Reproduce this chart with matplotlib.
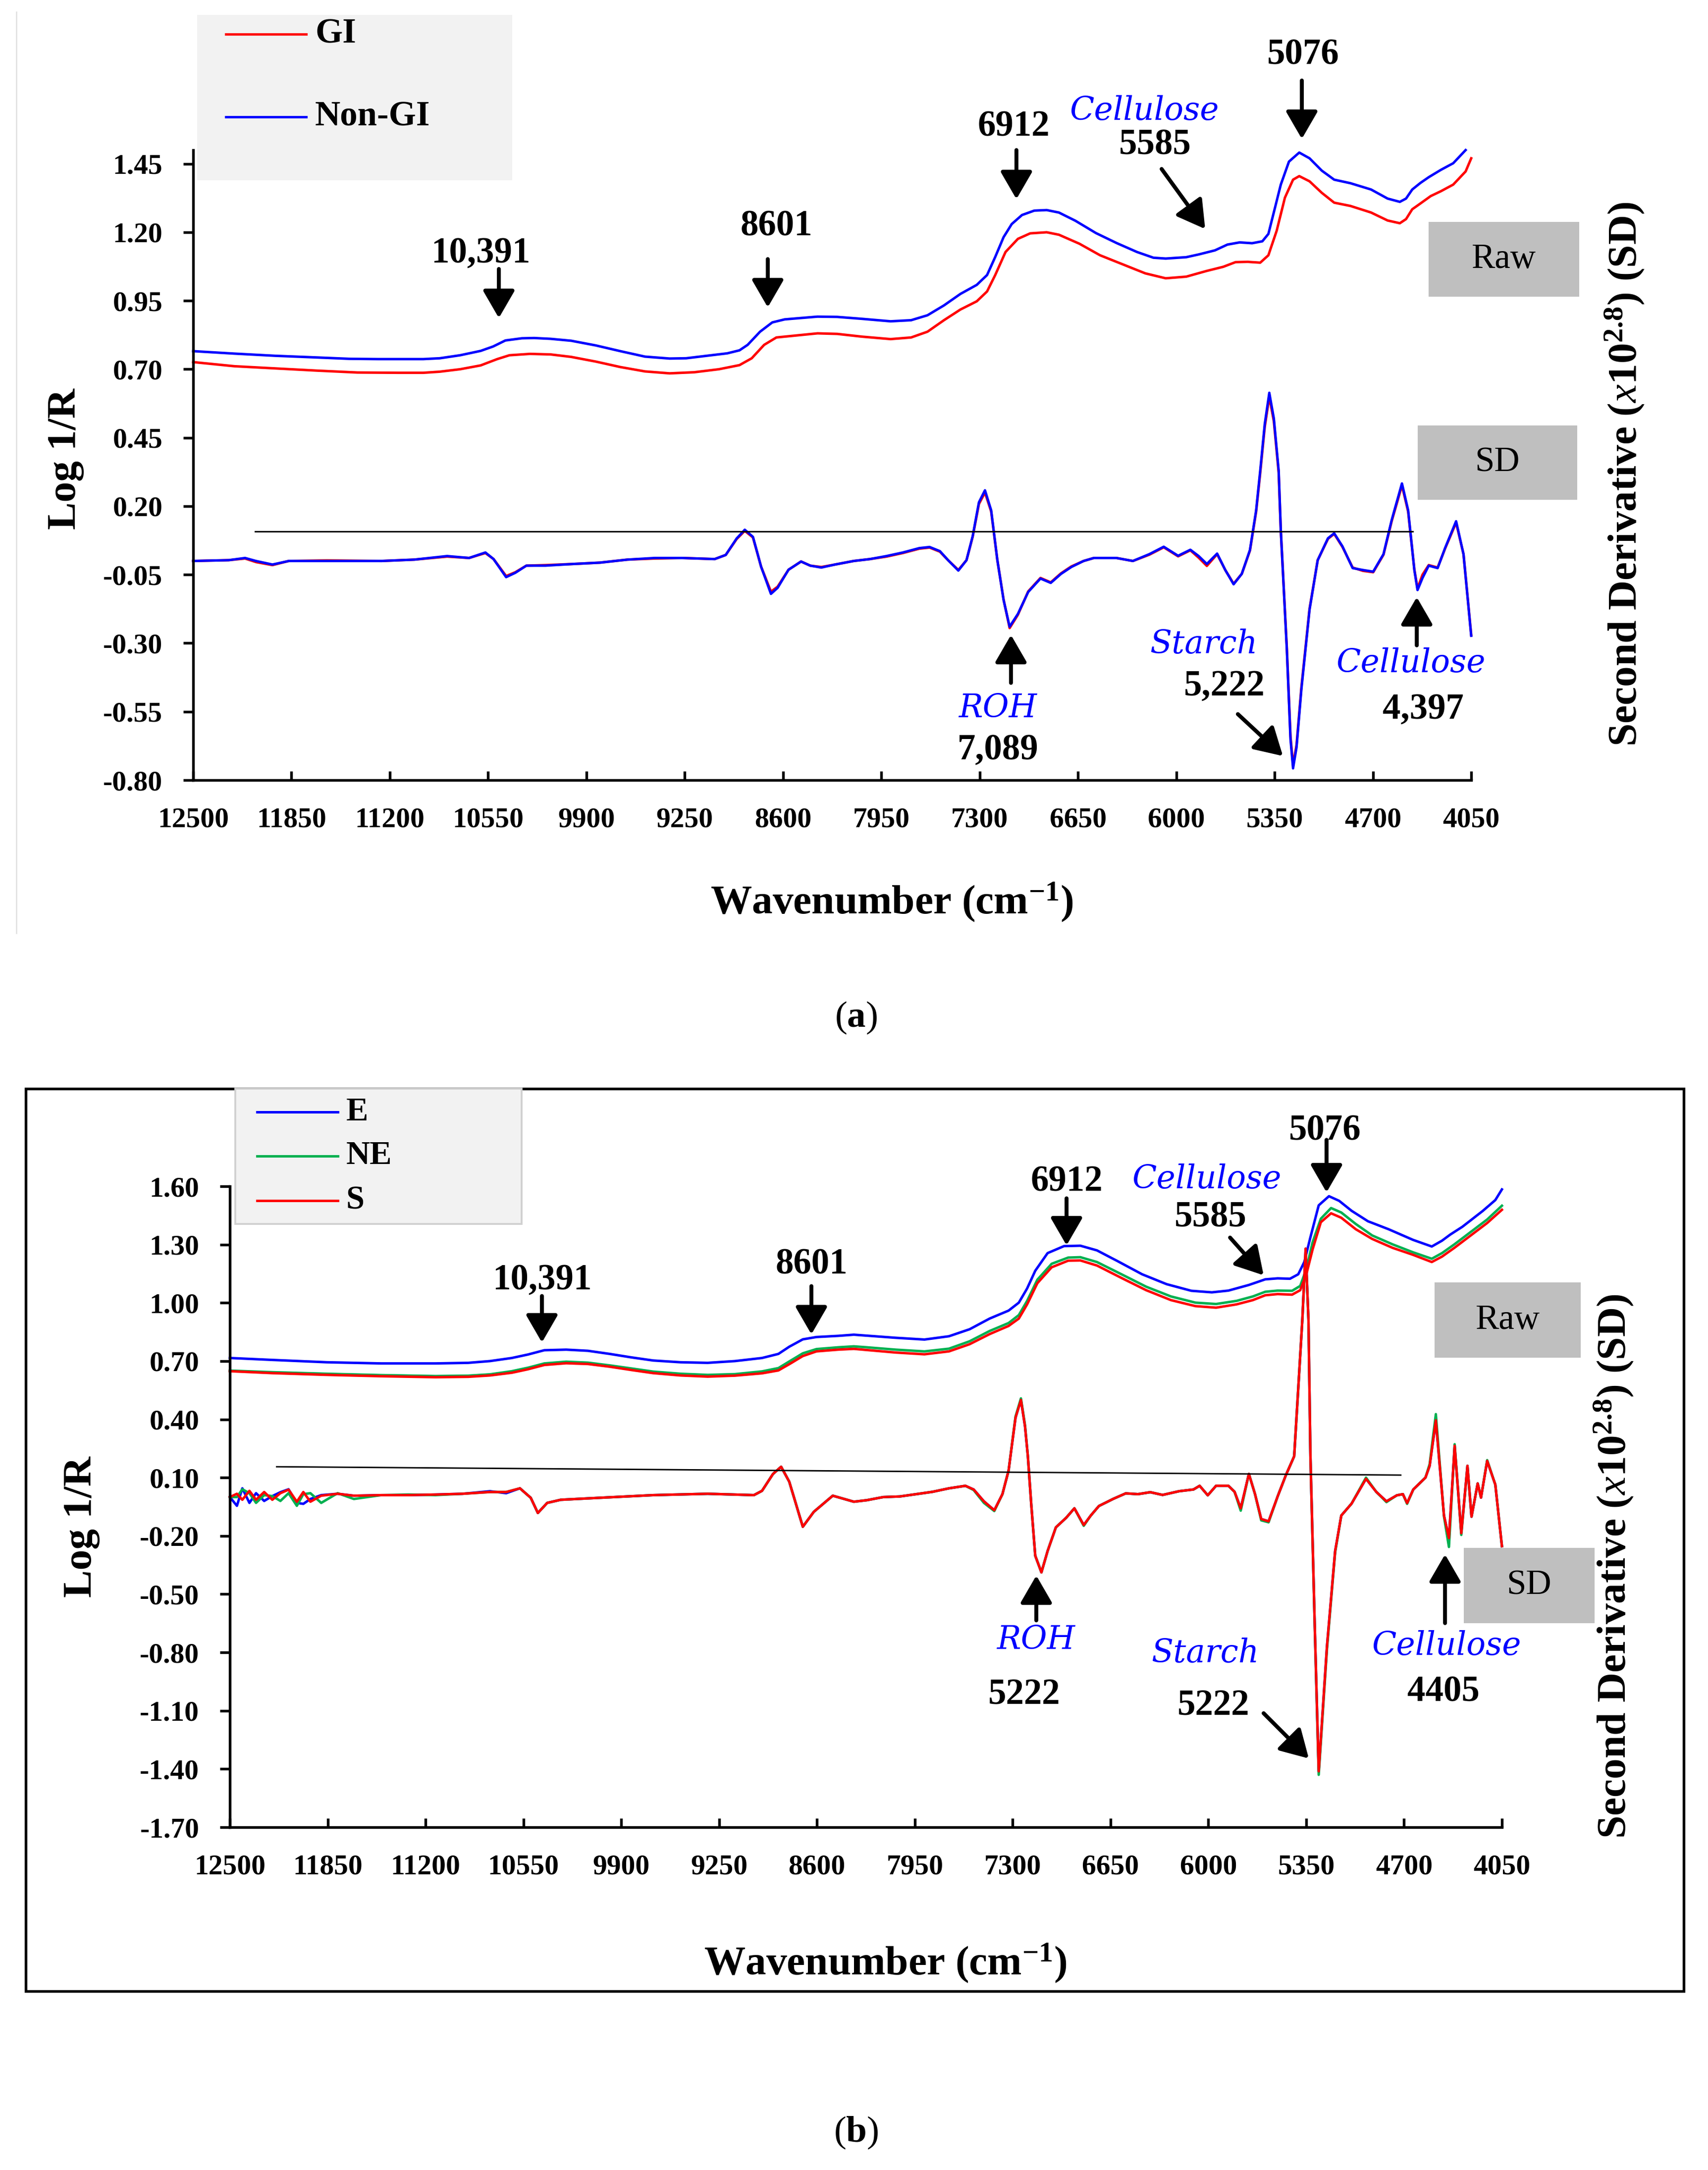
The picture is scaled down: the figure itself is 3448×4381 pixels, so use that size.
import matplotlib
matplotlib.use('Agg')
import matplotlib.pyplot as plt
from matplotlib.patches import Rectangle
from matplotlib.lines import Line2D

# ---------------- data ----------------
xticks = [12500, 11850, 11200, 10550, 9900, 9250, 8600, 7950, 7300, 6650, 6000, 5350, 4700, 4050]
xtick_labels = ['12500', '11850', '11200', '10550', '9900', '9250', '8600', '7950', '7300', '6650', '6000', '5350', '4700', '4050']
yticks_a = [-0.80, -0.55, -0.30, -0.05, 0.20, 0.45, 0.70, 0.95, 1.20, 1.45]
ylabels_a = ['-0.80', '-0.55', '-0.30', '-0.05', '0.20', '0.45', '0.70', '0.95', '1.20', '1.45']
yticks_b = [-1.70, -1.40, -1.10, -0.80, -0.50, -0.20, 0.10, 0.40, 0.70, 1.00, 1.30, 1.60]
ylabels_b = ['-1.70', '-1.40', '-1.10', '-0.80', '-0.50', '-0.20', '0.10', '0.40', '0.70', '1.00', '1.30', '1.60']

# panel (a) raw spectra
wn_raw_a_nongi = [12500, 12228, 11957, 11685, 11468, 11278, 10979, 10870, 10735, 10599, 10517, 10436, 10327, 10246, 10137,
                  10001, 9839, 9676, 9513, 9350, 9241, 9105, 8969, 8888, 8834, 8752, 8671, 8589, 8481, 8372, 8242,
                  8079, 7889, 7753, 7645, 7536, 7427, 7319, 7251, 7197, 7142, 7088, 7020, 6939, 6857, 6776,
                  6667, 6531, 6396, 6260, 6151, 6070, 5934, 5852, 5744, 5662, 5581, 5499, 5431, 5391, 5350,
                  5309, 5255, 5187, 5119, 5038, 4956, 4848, 4712, 4603, 4522, 4481, 4440, 4386, 4331, 4250,
                  4169, 4087]
raw_a_nongi = [0.766, 0.757, 0.749, 0.743, 0.738, 0.737, 0.737, 0.740, 0.751, 0.767, 0.783, 0.805, 0.813, 0.814, 0.811,
               0.804, 0.787, 0.766, 0.746, 0.739, 0.740, 0.749, 0.758, 0.769, 0.789, 0.837, 0.871, 0.882, 0.887, 0.892, 0.891,
               0.884, 0.875, 0.879, 0.897, 0.933, 0.975, 1.008, 1.044, 1.110, 1.182, 1.230, 1.263, 1.279, 1.281, 1.272,
               1.242, 1.197, 1.161, 1.128, 1.107, 1.104, 1.109, 1.119, 1.134, 1.155, 1.163, 1.160, 1.167, 1.194, 1.284,
               1.374, 1.458, 1.491, 1.470, 1.425, 1.392, 1.379, 1.356, 1.323, 1.311, 1.323, 1.356, 1.380, 1.401, 1.428,
               1.452, 1.500]
wn_raw_a_gi = [12500, 12228, 11957, 11685, 11414, 11142, 10979, 10870, 10735, 10599, 10490, 10409, 10273, 10137, 10001,
               9839, 9676, 9513, 9350, 9187, 9024, 8888, 8807, 8725, 8644, 8535, 8372, 8242,
               8079, 7889, 7753, 7645, 7536, 7427, 7319, 7251, 7197, 7129, 7047, 6966, 6857, 6776, 6640,
               6504, 6341, 6205, 6070, 5934, 5798, 5689, 5608, 5527, 5445, 5391, 5336, 5282, 5228, 5187,
               5119, 5038, 4956, 4848, 4712, 4603, 4522, 4481, 4440, 4386, 4318, 4250, 4169, 4087, 4050]
raw_a_gi = [0.726, 0.711, 0.703, 0.695, 0.688, 0.687, 0.687, 0.691, 0.700, 0.714, 0.737, 0.751, 0.756, 0.754, 0.745,
            0.728, 0.708, 0.692, 0.685, 0.689, 0.700, 0.715, 0.740, 0.789, 0.816, 0.822, 0.831, 0.829,
            0.819, 0.810, 0.816, 0.837, 0.879, 0.918, 0.948, 0.984, 1.044, 1.128, 1.176, 1.196, 1.200, 1.191, 1.158,
            1.116, 1.080, 1.050, 1.032, 1.038, 1.059, 1.074, 1.091, 1.092, 1.089, 1.116, 1.206, 1.326, 1.392, 1.405,
            1.386, 1.344, 1.308, 1.296, 1.272, 1.243, 1.233, 1.248, 1.284, 1.305, 1.332, 1.350, 1.374, 1.422, 1.470]

# panel (a) second derivative spectra (offset)
wn_sd_a = [12500, 12265, 12157, 12085, 11976, 11868, 11615, 11254, 11038, 10821, 10676, 10568, 10514, 10431, 10370,
           10297, 10171, 9990, 9810, 9629, 9449, 9268, 9160, 9052, 8979, 8907, 8853, 8799, 8745, 8680,
           8636, 8564, 8481, 8420, 8347, 8257,
           8133, 8025, 7916, 7808, 7699, 7631, 7563, 7509, 7441, 7387, 7346, 7305, 7265, 7224, 7183,
           7142, 7102, 7047, 6979, 6898, 6830, 6762, 6694, 6613, 6545, 6396, 6287, 6178, 6083, 5988,
           5907, 5852, 5798, 5730, 5676, 5621, 5567, 5513, 5472, 5445, 5415, 5385, 5355, 5323, 5309,
           5269, 5245, 5228, 5205, 5173, 5119, 5065, 4997, 4956, 4902, 4834, 4766, 4698, 4630, 4576,
           4508, 4467, 4426, 4405, 4372, 4331, 4272, 4223, 4150, 4101, 4050]
sd_a_nongi = [0.000, 0.003, 0.011, 0.000, -0.013, 0.000, 0.000, 0.000, 0.005, 0.018, 0.011, 0.031, 0.007, -0.059, -0.043,
              -0.017, -0.017, -0.011, -0.006, 0.005, 0.011, 0.011, 0.009, 0.007, 0.022, 0.082, 0.114, 0.088, -0.021, -0.120,
              -0.098, -0.032, -0.002, -0.017, -0.024, -0.013,
              0.000, 0.007, 0.018, 0.031, 0.047, 0.051, 0.036, 0.003, -0.035, 0.003, 0.091, 0.214, 0.258, 0.185, 0.003,
              -0.142, -0.240, -0.193, -0.113, -0.064, -0.080, -0.047, -0.022, 0.000, 0.011, 0.011, 0.000, 0.025, 0.052, 0.019,
              0.041, 0.018, -0.011, 0.027, -0.033, -0.085, -0.047, 0.040, 0.185, 0.330, 0.500, 0.614, 0.520, 0.330, 0.112,
              -0.324, -0.650, -0.757, -0.680, -0.469, -0.178, 0.003, 0.083, 0.101, 0.054, -0.026, -0.033, -0.039, 0.025, 0.149,
              0.283, 0.185, -0.033, -0.106, -0.062, -0.017, -0.026, 0.047, 0.145, 0.025, -0.273]
sd_a_gi = [0.000, 0.003, 0.009, -0.004, -0.015, 0.000, 0.002, 0.000, 0.005, 0.016, 0.011, 0.029, 0.007, -0.055, -0.041,
           -0.017, -0.015, -0.011, -0.006, 0.005, 0.009, 0.011, 0.009, 0.007, 0.022, 0.080, 0.110, 0.086, -0.021, -0.112,
           -0.094, -0.032, -0.002, -0.017, -0.022, -0.013,
           0.000, 0.007, 0.016, 0.029, 0.045, 0.049, 0.034, 0.003, -0.033, 0.003, 0.089, 0.208, 0.250, 0.181, 0.003,
           -0.140, -0.245, -0.196, -0.111, -0.062, -0.078, -0.045, -0.020, 0.000, 0.011, 0.011, 0.000, 0.023, 0.050, 0.017,
           0.039, 0.012, -0.018, 0.025, -0.033, -0.083, -0.047, 0.038, 0.180, 0.322, 0.490, 0.600, 0.510, 0.322, 0.110,
           -0.318, -0.640, -0.745, -0.672, -0.462, -0.175, 0.003, 0.081, 0.099, 0.052, -0.024, -0.036, -0.041, 0.023, 0.145,
           0.276, 0.180, -0.031, -0.100, -0.050, -0.015, -0.024, 0.045, 0.140, 0.025, -0.270]
ref_line_a_wn = [12092, 4438]
ref_line_a_val = [0.108, 0.108]

# panel (b) raw spectra
wn_raw_b = [12500, 12218, 11857, 11495, 11134, 10917, 10772, 10627, 10519, 10411, 10266, 10121, 9977, 9832, 9688,
            9507, 9326, 9145, 8965, 8856, 8784, 8694, 8603, 8459, 8355]
raw_b_e_left = [0.716, 0.706, 0.694, 0.688, 0.688, 0.691, 0.700, 0.716, 0.734, 0.756, 0.759, 0.753, 0.737, 0.719, 0.703,
                0.694, 0.691, 0.700, 0.716, 0.737, 0.774, 0.812, 0.824, 0.830, 0.836]
raw_b_ne_left = [0.651, 0.643, 0.635, 0.628, 0.623, 0.625, 0.632, 0.648, 0.666, 0.688, 0.697, 0.692, 0.678, 0.662, 0.646,
                 0.635, 0.629, 0.633, 0.647, 0.664, 0.698, 0.740, 0.762, 0.771, 0.776]
raw_b_s_left = [0.648, 0.638, 0.629, 0.622, 0.617, 0.619, 0.626, 0.640, 0.658, 0.680, 0.689, 0.685, 0.671, 0.654, 0.638,
                0.626, 0.620, 0.625, 0.637, 0.652, 0.684, 0.726, 0.750, 0.759, 0.763]
wn_raw_b_e_right = [8268, 8077, 7886, 7723, 7586, 7453, 7327, 7259, 7204, 7150, 7068, 6959, 6850, 6740, 6604,
                    6440, 6277, 6113, 5977, 5867, 5731, 5622, 5540, 5458, 5403, 5363, 5322, 5267, 5199, 5131,
                    5049, 4940, 4803, 4640, 4516, 4448, 4394, 4312, 4176, 4094, 4050]
raw_b_e_right = [0.831, 0.820, 0.811, 0.828, 0.864, 0.919, 0.960, 1.001, 1.074, 1.165, 1.256, 1.292, 1.294, 1.270, 1.215,
                 1.147, 1.096, 1.062, 1.054, 1.063, 1.092, 1.121, 1.126, 1.124, 1.147, 1.210, 1.338, 1.502, 1.549, 1.525,
                 1.474, 1.420, 1.379, 1.324, 1.290, 1.320, 1.351, 1.392, 1.474, 1.529, 1.584]
wn_raw_b_ns_right = [8268, 8077, 7886, 7723, 7586, 7453, 7327, 7259, 7204, 7136, 7041, 6931, 6850, 6740, 6577,
                     6413, 6249, 6086, 5949, 5813, 5704, 5622, 5540, 5444, 5390, 5349, 5308, 5253, 5185, 5117,
                     5021, 4912, 4776, 4640, 4516, 4448, 4366, 4257, 4148, 4050]
raw_b_ne_right = [0.771, 0.759, 0.750, 0.764, 0.802, 0.855, 0.896, 0.937, 1.010, 1.119, 1.201, 1.233, 1.235, 1.210, 1.147,
                  1.083, 1.033, 1.001, 0.994, 1.010, 1.033, 1.057, 1.063, 1.062, 1.087, 1.174, 1.311, 1.433, 1.488, 1.465,
                  1.406, 1.347, 1.301, 1.260, 1.227, 1.256, 1.301, 1.365, 1.429, 1.500]
raw_b_s_right = [0.757, 0.744, 0.735, 0.750, 0.787, 0.839, 0.881, 0.919, 0.992, 1.101, 1.183, 1.217, 1.218, 1.192, 1.128,
                 1.065, 1.014, 0.983, 0.975, 0.992, 1.014, 1.039, 1.045, 1.042, 1.065, 1.147, 1.274, 1.415, 1.461, 1.438,
                 1.379, 1.329, 1.283, 1.247, 1.210, 1.238, 1.283, 1.347, 1.411, 1.479]

# panel (b) second derivative spectra (offset)
wn_sd_b_left = [12500, 12453, 12417, 12370, 12326, 12272, 12218, 12164, 12110, 12055, 12012, 11965, 11893, 11784, 11676,
                11495, 11314, 11134, 10953, 10772, 10664, 10573, 10501, 10454, 10392, 10302, 10049, 9688, 9326, 9019,
                8965, 8892, 8838, 8784, 8694, 8621, 8495, 8355]
sd_b_s_left = [0.000, 0.017, -0.014, 0.032, -0.014, 0.026, -0.014, 0.020, 0.038, -0.024, 0.026, -0.024, 0.007, 0.017, 0.007,
               0.010, 0.010, 0.013, 0.017, 0.026, 0.026, 0.045, -0.004, -0.082, -0.030, -0.014, -0.004, 0.010, 0.017, 0.010,
               0.032, 0.119, 0.156, 0.079, -0.153, -0.076, 0.007, -0.024]
sd_b_ne_left = [0.000, 0.000, 0.040, 0.020, -0.030, 0.010, 0.005, -0.020, 0.020, -0.045, 0.015, 0.020, -0.030, 0.020, -0.010,
                0.010, 0.013, 0.010, 0.017, 0.026, 0.026, 0.045, -0.004, -0.082, -0.030, -0.014, -0.004, 0.010, 0.017, 0.010,
                0.032, 0.119, 0.156, 0.079, -0.153, -0.076, 0.007, -0.024]
sd_b_e_left = [0.000, -0.045, 0.045, -0.030, 0.020, -0.020, 0.005, 0.025, 0.040, -0.030, -0.035, -0.010, 0.010, 0.017, 0.007,
               0.010, 0.010, 0.013, 0.017, 0.030, 0.020, 0.045, -0.004, -0.082, -0.030, -0.014, -0.004, 0.010, 0.017, 0.010,
               0.032, 0.119, 0.156, 0.079, -0.153, -0.076, 0.007, -0.024]
wn_sd_b_right = [8268, 8159, 8050, 7941, 7832, 7723, 7614, 7559, 7491, 7422, 7368, 7327, 7281, 7245, 7218,
                 7199, 7177, 7150, 7109, 7068, 7013, 6945, 6890, 6828, 6781, 6727, 6631, 6549, 6468, 6386,
                 6304, 6195, 6099, 6058, 6004, 5949, 5867, 5826, 5785, 5731, 5690, 5649, 5600, 5540, 5485,
                 5430, 5376, 5354, 5335, 5322, 5294, 5267, 5212, 5158, 5117, 5049, 4953, 4885, 4817, 4748,
                 4708, 4680, 4639, 4558, 4530, 4489, 4435, 4402, 4364, 4320, 4279, 4252, 4211, 4189, 4148,
                 4094, 4050]
sd_b_s_right = [-0.016, 0.000, 0.003, 0.015, 0.027, 0.045, 0.058, 0.039, -0.022, -0.068, 0.015, 0.137, 0.409, 0.500, 0.363,
                0.210, -0.034, -0.302, -0.388, -0.278, -0.156, -0.107, -0.058, -0.144, -0.095, -0.046, -0.009, 0.019, 0.015, 0.025,
                0.011, 0.030, 0.039, 0.058, 0.009, 0.058, 0.058, 0.027, -0.058, 0.119, 0.015, -0.113, -0.125, 0.003, 0.113,
                0.210, 0.910, 1.279, 0.910, 0.210, -0.644, -1.412, -0.766, -0.278, -0.095, -0.034, 0.094, 0.027, -0.022, 0.009,
                0.015, -0.031, 0.039, 0.100, 0.161, 0.395, -0.095, -0.211, 0.264, -0.186, 0.161, -0.101, 0.070, -0.003, 0.186,
                0.064, -0.253]
sd_b_ne_right = [-0.016, 0.000, 0.003, 0.015, 0.027, 0.045, 0.058, 0.036, -0.030, -0.072, 0.015, 0.137, 0.415, 0.508, 0.370,
                 0.210, -0.034, -0.302, -0.388, -0.278, -0.156, -0.107, -0.058, -0.148, -0.095, -0.046, -0.009, 0.019, 0.015, 0.025,
                 0.011, 0.030, 0.039, 0.058, 0.009, 0.058, 0.058, 0.027, -0.070, 0.119, 0.015, -0.120, -0.130, 0.003, 0.113,
                 0.210, 0.910, 1.265, 0.910, 0.210, -0.650, -1.430, -0.780, -0.285, -0.095, -0.034, 0.100, 0.027, -0.026, 0.009,
                 0.015, -0.035, 0.039, 0.100, 0.170, 0.427, -0.100, -0.257, 0.272, -0.195, 0.161, -0.101, 0.070, -0.003, 0.190,
                 0.064, -0.253]
sd_b_e_right = [-0.016, 0.000, 0.003, 0.015, 0.027, 0.045, 0.058, 0.039, -0.022, -0.068, 0.015, 0.137, 0.409, 0.500, 0.363,
                0.210, -0.034, -0.302, -0.388, -0.278, -0.156, -0.107, -0.058, -0.144, -0.095, -0.046, -0.009, 0.019, 0.015, 0.025,
                0.011, 0.030, 0.039, 0.058, 0.009, 0.058, 0.058, 0.027, -0.058, 0.119, 0.015, -0.113, -0.125, 0.003, 0.113,
                0.210, 0.910, 1.279, 0.910, 0.210, -0.644, -1.412, -0.766, -0.278, -0.095, -0.034, 0.094, 0.027, -0.022, 0.009,
                0.015, -0.031, 0.039, 0.100, 0.161, 0.395, -0.095, -0.211, 0.264, -0.186, 0.161, -0.101, 0.070, -0.003, 0.186,
                0.064, -0.253]
ref_line_b_wn = [12189, 4722]
ref_line_b_val = [0.156, 0.113]

# ---------------- styling ----------------
W, H = 3448, 4381
DPI = 300
plt.rcParams['font.family'] = ['Liberation Serif', 'DejaVu Serif']
plt.rcParams['mathtext.fontset'] = 'custom'
plt.rcParams['mathtext.rm'] = 'Liberation Serif:bold'
plt.rcParams['mathtext.bf'] = 'Liberation Serif:bold'
plt.rcParams['mathtext.it'] = 'Liberation Serif:italic'
plt.rcParams['axes.unicode_minus'] = False

BLUE = '#0000FF'
RED = '#FF0000'
GREEN = '#00B050'
LW = 1.2

fig = plt.figure(figsize=(W / DPI, H / DPI), dpi=DPI)


def fx(x):
    return x / W


def fy(y):
    return 1 - y / H


def make_axes(left, right, top, bottom):
    return fig.add_axes([fx(left), fy(bottom), (right - left) / W, (bottom - top) / H])


def style(ax, ylim, yt, yl):
    ax.set_xlim(12500, 4050)
    ax.set_ylim(*ylim)
    ax.set_xticks(xticks)
    ax.set_xticklabels(xtick_labels)
    ax.set_yticks(yt)
    ax.set_yticklabels(yl)
    for s in ['top', 'right']:
        ax.spines[s].set_visible(False)
    for s in ['left', 'bottom']:
        ax.spines[s].set_linewidth(1.3)
    ax.tick_params(axis='x', direction='in', length=4.4, width=1.3, pad=13, labelsize=13.8)
    ax.tick_params(axis='y', direction='out', length=4.8, width=1.3, pad=10, labelsize=13.8)
    for lab in ax.get_xticklabels() + ax.get_yticklabels():
        lab.set_fontweight('bold')
    ax.patch.set_alpha(0)


def arrow(ax, p_from, p_to):
    ax.annotate('', xy=p_to, xytext=p_from,
                arrowprops=dict(arrowstyle='-|>,head_length=0.95,head_width=0.55', color='black',
                                lw=1.9, mutation_scale=12, shrinkA=0, shrinkB=0),
                annotation_clip=False)


def num(ax, x, y, s):
    ax.text(x, y, s, ha='center', va='center', fontsize=17.5, fontweight='bold', clip_on=False)


def blue_lab(ax, x, y, s):
    ax.text(x, y, s, ha='center', va='center', fontsize=15.5, style='italic', color=BLUE,
            family=['DejaVu Serif'], clip_on=False)


def gray_box(x0, y0, x1, y1, s):
    fig.patches.append(Rectangle((fx(x0), fy(y1)), (x1 - x0) / W, (y1 - y0) / H,
                                 transform=fig.transFigure, facecolor='#BFBFBF', edgecolor='none', zorder=3))
    fig.text(fx((x0 + x1) / 2), fy((y0 + y1) / 2), s, ha='center', va='center', fontsize=17, zorder=4)


# ================= panel (a) =================
axa = make_axes(390, 2970, 303, 1575)
style(axa, (-0.80, 1.50), yticks_a, ylabels_a)
axa.plot(wn_raw_a_gi, raw_a_gi, color=RED, lw=LW, clip_on=False)
axa.plot(wn_raw_a_nongi, raw_a_nongi, color=BLUE, lw=LW, clip_on=False)
axa.plot(wn_sd_a, sd_a_gi, color=RED, lw=LW, clip_on=False)
axa.plot(wn_sd_a, sd_a_nongi, color=BLUE, lw=LW, clip_on=False)
axa.plot(ref_line_a_wn, ref_line_a_val, color='black', lw=0.7)

num(axa, 10600, 1.122, '10,391')
arrow(axa, (10479, 1.066), (10479, 0.887))
num(axa, 8645, 1.220, '8601')
arrow(axa, (8701, 1.102), (8701, 0.926))
num(axa, 7076, 1.584, '6912')
arrow(axa, (7057, 1.500), (7057, 1.321))
blue_lab(axa, 6212, 1.644, 'Cellulose')
num(axa, 6140, 1.517, '5585')
arrow(axa, (6097, 1.431), (5809, 1.212))
num(axa, 5161, 1.846, '5076')
arrow(axa, (5170, 1.754), (5170, 1.541))
blue_lab(axa, 7178, -0.537, 'ROH')
num(axa, 7178, -0.690, '7,089')
arrow(axa, (7093, -0.445), (7093, -0.270))
blue_lab(axa, 5819, -0.304, 'Starch')
num(axa, 5681, -0.457, '5,222')
arrow(axa, (5593, -0.559), (5295, -0.712))
blue_lab(axa, 4450, -0.373, 'Cellulose')
num(axa, 4368, -0.543, '4,397')
arrow(axa, (4410, -0.308), (4410, -0.132))

# legend (a)
fig.patches.append(Rectangle((fx(398), fy(364)), (1034 - 398) / W, (364 - 30) / H,
                             transform=fig.transFigure, facecolor='#F2F2F2', edgecolor='none', zorder=2))
for yy, col, lab in [(69, RED, 'GI'), (236, BLUE, 'Non-GI')]:
    fig.lines.append(Line2D([fx(456), fx(618)], [fy(yy), fy(yy)], color=col, lw=LW,
                            transform=fig.transFigure, zorder=3))
    fig.text(fx(636), fy(yy), lab, ha='left', va='center', fontsize=17, fontweight='bold', zorder=3)

gray_box(2884, 448, 3188, 599, 'Raw')
gray_box(2862, 859, 3184, 1009, 'SD')

fig.text(fx(132), fy(927), 'Log 1/R', rotation=90, ha='center', va='center', fontsize=20, fontweight='bold')
fig.text(fx(3280), fy(957), r'Second Derivative ($x$10$^{2.8}$) (SD)', rotation=90, ha='center', va='center',
         fontsize=20, fontweight='bold')
fig.text(fx(1800), fy(1845), r'Wavenumber (cm$^{-1}$)', ha='center', va='baseline', fontsize=20, fontweight='bold')
fig.text(fx(1728), fy(2055), r'($\mathbf{a}$)', ha='center', va='center', fontsize=18)
fig.lines.append(Line2D([fx(33), fx(33)], [fy(24), fy(1884)], color='#E0E0E0', lw=0.6, transform=fig.transFigure))

# ================= panel (b) =================
fig.patches.append(Rectangle((fx(52), fy(4020)), (3399 - 52) / W, (4020 - 2198) / H,
                             transform=fig.transFigure, facecolor='none', edgecolor='black', lw=1.3, zorder=1))
axb = make_axes(464, 3032, 2395, 3689)
style(axb, (-1.70, 1.60), yticks_b, ylabels_b)
axb.plot(wn_raw_b + wn_raw_b_e_right, raw_b_e_left + raw_b_e_right, color=BLUE, lw=LW, clip_on=False)
axb.plot(wn_raw_b + wn_raw_b_ns_right, raw_b_ne_left + raw_b_ne_right, color=GREEN, lw=LW, clip_on=False)
axb.plot(wn_raw_b + wn_raw_b_ns_right, raw_b_s_left + raw_b_s_right, color=RED, lw=LW, clip_on=False)
axb.plot(wn_sd_b_left + wn_sd_b_right, sd_b_e_left + sd_b_e_right, color=BLUE, lw=LW, clip_on=False)
axb.plot(wn_sd_b_left + wn_sd_b_right, sd_b_ne_left + sd_b_ne_right, color=GREEN, lw=LW, clip_on=False)
axb.plot(wn_sd_b_left + wn_sd_b_right, sd_b_s_left + sd_b_s_right, color=RED, lw=LW, clip_on=False)
axb.plot(ref_line_b_wn, ref_line_b_val, color='black', lw=0.7)

num(axb, 10427, 1.117, '10,391')
arrow(axb, (10427, 1.035), (10427, 0.796))
num(axb, 8637, 1.195, '8601')
arrow(axb, (8637, 1.086), (8637, 0.838))
num(axb, 6942, 1.622, '6912')
arrow(axb, (6942, 1.538), (6942, 1.296))
blue_lab(axb, 6011, 1.637, 'Cellulose')
num(axb, 5985, 1.437, '5585')
arrow(axb, (5856, 1.336), (5633, 1.142))
num(axb, 5225, 1.884, '5076')
arrow(axb, (5215, 1.839), (5215, 1.569))
blue_lab(axb, 7143, -0.736, 'ROH')
num(axb, 7222, -1.020, '5222')
arrow(axb, (7143, -0.635), (7143, -0.404))
blue_lab(axb, 6021, -0.803, 'Starch')
num(axb, 5965, -1.076, '5222')
arrow(axb, (5633, -1.113), (5333, -1.346))
blue_lab(axb, 4419, -0.767, 'Cellulose')
num(axb, 4438, -1.006, '4405')
arrow(axb, (4428, -0.649), (4428, -0.295))

# legend (b)
fig.patches.append(Rectangle((fx(475), fy(2471)), (1053 - 475) / W, (2471 - 2198) / H,
                             transform=fig.transFigure, facecolor='#F2F2F2', edgecolor='#D0D0D0', lw=0.9, zorder=2))
for yy, col, lab in [(2245, BLUE, 'E'), (2334, GREEN, 'NE'), (2424, RED, 'S')]:
    fig.lines.append(Line2D([fx(519), fx(682)], [fy(yy), fy(yy)], color=col, lw=LW,
                            transform=fig.transFigure, zorder=3))
    fig.text(fx(699), fy(yy), lab, ha='left', va='center', fontsize=16, fontweight='bold', zorder=3)

gray_box(2896, 2589, 3191, 2741, 'Raw')
gray_box(2955, 3125, 3219, 3277, 'SD')

fig.text(fx(165), fy(3083), 'Log 1/R', rotation=90, ha='center', va='center', fontsize=20, fontweight='bold')
fig.text(fx(3258), fy(3162), r'Second Derivative ($x$10$^{2.8}$) (SD)', rotation=90, ha='center', va='center',
         fontsize=20, fontweight='bold')
fig.text(fx(1787), fy(3987), r'Wavenumber (cm$^{-1}$)', ha='center', va='baseline', fontsize=20, fontweight='bold')
fig.text(fx(1728), fy(4306), r'($\mathbf{b}$)', ha='center', va='center', fontsize=18)

fig.savefig('out.png', dpi=DPI)
